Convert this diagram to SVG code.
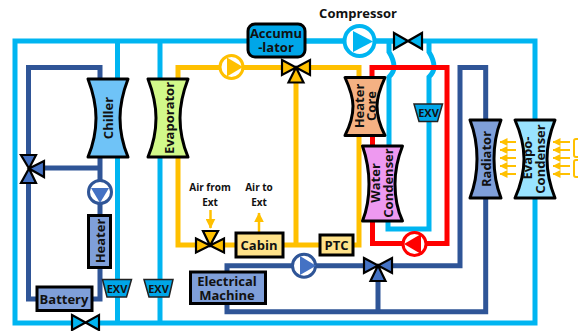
<svg xmlns="http://www.w3.org/2000/svg" width="578" height="331" viewBox="0 0 578 331">
<style>
text{font-family:"Open Sans","Noto Sans","Liberation Sans",sans-serif;font-weight:700;fill:#111;text-anchor:middle}
.l{fill:none;stroke-width:5;stroke-miterlimit:10}
.c{stroke:#00b5f1}.y{stroke:#ffc000}.b{stroke:#2f5597}.r{stroke:#ff0000}
.t{fill:none;stroke:#ffc000;stroke-width:2}
.ta{fill:none;stroke:#ffc000;stroke-width:2.500}
.n{stroke:#000;stroke-width:3;stroke-linejoin:round}
.q{stroke:#000;stroke-width:3;stroke-linejoin:miter}
.v{stroke:#000;stroke-width:2.200;stroke-linejoin:miter}
.e{stroke:#222;stroke-width:1.500;stroke-linejoin:miter}
.s{font-size:10px}.x{font-size:11px}.m{font-size:13px}
</style>
<defs>
<marker id="a" viewBox="0 0 8 8" refX="7.500" refY="4" markerWidth="4" markerHeight="4" orient="auto"><path d="M0 0L8 4L0 8Z" fill="#ffc000"/></marker>
</defs>
<g id="connectors">
<path class="l c" d="M395 41H15V323H72M100 323H535V41H420"/>
<path class="l c" d="M117.500 41V78M117.500 157V323M160 41V78M160 158V323"/>
<path class="l c" d="M305 41H345M375 41H395"/>
<path class="l c" d="M389 41V52Q394 60 394 67Q394 72 389 77V146"/>
<path class="l c" d="M429 41V52Q434 60 434 67Q434 72 429 77V229H388V222"/>
<path class="l y" d="M178 158V245H196M178 158V67.500H220M243 67.500H281M311 67.500H359V77M296 83V245M225 245H236M283 245H320M353 245H359V136"/>
<path class="l r" d="M372 77V67.500H447V243.500H426M402 243.500H372.500V136"/>
<path class="l b" d="M100 78V67.500H28.500V155M28.500 183V299H37M92 299H100V268M100 215V168H44M100 168V78"/>
<path class="l b" d="M227 271V265.700H292M316 265.700H363M392 265.700H460V67.500H485.700V120M227 304V311.700H485.700V198M378 281V311.700"/>
</g>
<g id="air">
<path class="ta" d="M210.500 210V228" marker-end="url(#a)"/>
<path class="ta" d="M259 232V213" marker-end="url(#a)"/>
<path class="t" d="M516 142H500" marker-end="url(#a)"/><path class="t" d="M516 150H500" marker-end="url(#a)"/><path class="t" d="M516 158H500" marker-end="url(#a)"/><path class="t" d="M516 166H500" marker-end="url(#a)"/><path class="t" d="M516 174H500" marker-end="url(#a)"/>
<path class="t" d="M570 142H553" marker-end="url(#a)"/><path class="t" d="M570 150H553" marker-end="url(#a)"/><path class="t" d="M570 158H553" marker-end="url(#a)"/><path class="t" d="M570 166H553" marker-end="url(#a)"/><path class="t" d="M570 174H553" marker-end="url(#a)"/>
<path class="t" d="M578 139H576Q574 139 574 141V155Q574 157 576 157H578M578 160H576Q574 160 574 162V175Q574 177 576 177H578"/>
</g>
<g id="chiller"><path class="n" fill="#6fc3f7" d="M88 79H128Q120 100 120 118Q120 138 128 157H88Q96 138 96 118Q96 100 88 79Z"/><text class="m" transform="translate(113 118) rotate(-90)">Chiller</text></g>
<g id="evaporator"><path class="n" fill="#d2f98a" d="M148 79H188Q180 100 180 118Q180 138 188 157H148Q156 138 156 118Q156 100 148 79Z"/><text class="m" transform="translate(174 118) rotate(-90)">Evaporator</text></g>
<g id="accumulator"><rect class="n" fill="#00a6e8" x="248" y="24" width="57" height="33" rx="7"/><text class="m" x="276" y="38">Accumu</text><text class="m" x="276" y="52">-lator</text></g>
<g id="compressor"><circle cx="359.500" cy="41" r="15" fill="#fff" stroke="#00b5f1" stroke-width="4"/><path fill="#00b5f1" d="M353 31L373 41.500L353 52Z"/><text class="m" x="358" y="18">Compressor</text></g>
<g id="exp-valve-top"><path class="v" fill="#00b5f1" d="M394 33L422 49V33L394 49Z"/></g>
<g id="heater-core"><path class="n" fill="#f4b183" d="M345 77.500H385Q377 95 377 106Q377 120 385 135.500H345Q353 120 353 106Q353 95 345 77.500Z"/><text class="m" transform="translate(363.500 106) rotate(-90)">Heater</text><text class="m" transform="translate(375.500 106) rotate(-90)">Core</text></g>
<g id="water-condenser"><path class="n" fill="#ee99f0" d="M362.500 146H402.500Q395 165 395 184Q395 205 402.500 221H362.500Q369 205 369 184Q369 165 362.500 146Z"/><text class="m" transform="translate(380 183) rotate(-90)">Water</text><text class="m" transform="translate(393 183) rotate(-90)">Condenser</text></g>
<g id="radiator"><path class="n" fill="#7f9fd9" d="M470 120H501Q494 138 494 159Q494 180 501 198H470Q477 180 477 159Q477 138 470 120Z"/><text class="m" transform="translate(490.500 159) rotate(-90)">Radiator</text></g>
<g id="evapo-condenser"><path class="n" fill="#99e3ff" d="M515 120H555Q547 140 547 159Q547 178 555 198H515Q524 178 524 159Q524 140 515 120Z"/><text class="m" transform="translate(532 158) rotate(-90)">Evapo-</text><text class="m" transform="translate(545 159) rotate(-90)">Condenser</text></g>
<g id="heater"><rect class="q" fill="#7f9fd9" x="88.500" y="215.500" width="22" height="52"/><text class="m" transform="translate(105 241) rotate(-90)">Heater</text></g>
<g id="battery"><rect class="q" fill="#7f9fd9" x="37" y="287" width="55" height="23.500"/><text class="m" x="64" y="304">Battery</text></g>
<g id="electrical-machine"><rect class="q" fill="#7f9fd9" x="190.500" y="272" width="75" height="31.500"/><text class="m" x="227" y="286">Electrical</text><text class="m" x="227" y="300">Machine</text></g>
<g id="cabin"><rect class="q" fill="#ffe28a" x="236" y="233" width="47" height="24"/><text class="m" x="259" y="250">Cabin</text></g>
<g id="ptc"><rect class="q" fill="#ffe28a" x="320" y="235" width="33" height="20"/><text class="m" x="336.500" y="250">PTC</text></g>
<g id="exv1"><path class="e" fill="#00a6e8" d="M102.500 279.500H131.500L126.500 297H107Z"/><text class="x" x="117" y="293">EXV</text></g>
<g id="exv2"><path class="e" fill="#00a6e8" d="M144 279.500H173L169 297H149Z"/><text class="x" x="158.500" y="293">EXV</text></g>
<g id="exv3"><path class="e" fill="#00a6e8" d="M414 104H442.500L437.500 121.500H419Z"/><text class="x" x="428.500" y="117">EXV</text></g>
<g id="valve-bottom"><path class="v" fill="#00b5f1" d="M72 315L99 330V315L72 330Z"/></g>
<g id="pump-yellow"><circle cx="231.500" cy="67" r="11.500" fill="#fff" stroke="#ffc000" stroke-width="3"/><path fill="#ffc000" d="M227 57.500L243 67L227 76.500Z"/></g>
<g id="pump-blue-v"><circle cx="100" cy="192" r="11.500" fill="#fff" stroke="#2f5597" stroke-width="3"/><path fill="#4472c4" d="M91 188H109L100 203Z"/></g>
<g id="pump-blue-h"><circle cx="304" cy="265.700" r="11.500" fill="#fff" stroke="#2f5597" stroke-width="3"/><path fill="#4472c4" d="M300 256L316 265.700L300 275Z"/></g>
<g id="pump-red"><circle cx="414.500" cy="244" r="11.500" fill="#fff" stroke="#ff0000" stroke-width="3"/><path fill="#ff0000" d="M421 234L404 244L421 254Z"/></g>
<g id="valve-yellow-top"><path class="v" fill="#ffc000" d="M282 60L310 75V60L282 75ZM296 67.500L288.500 82.500H303.500Z"/></g>
<g id="valve-yellow-bottom"><path class="v" fill="#ffc000" d="M196 238.500L224 252.500V238.500L196 252.500ZM210 245.500L203 231H218Z"/></g>
<g id="valve-blue-left"><path class="v" fill="#4472c4" d="M29 168.500L21 155H36ZM29 168.500L21 183H36ZM29 168.500L44 161V177Z"/></g>
<g id="valve-blue-right"><path class="v" fill="#4472c4" d="M364 258L392 273V258L364 273ZM378 265.500L370.500 281H385.500Z"/></g>
<text class="s" x="210" y="191">Air from</text><text class="s" x="210" y="205.500">Ext</text>
<text class="s" x="259" y="191">Air to</text><text class="s" x="259" y="205.500">Ext</text>
</svg>
